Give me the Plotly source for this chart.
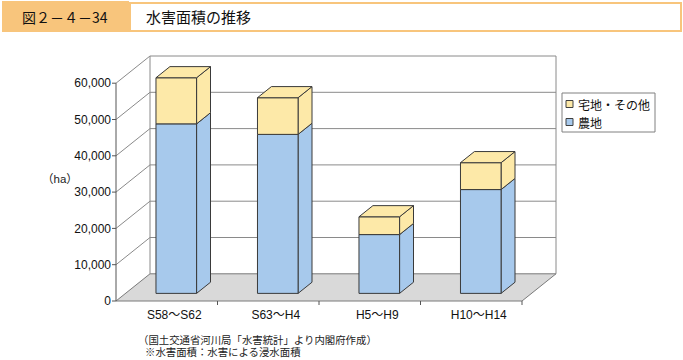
import plotly.graph_objects as go

# ---------------- data ----------------
categories = ["S58～S62", "S63～H4", "H5～H9", "H10～H14"]
farmland = [46700, 43800, 16200, 28600]          # 農地
residential = [12700, 10100, 4900, 7400]         # 宅地・その他
series_names = ["宅地・その他", "農地"]
y_ticks = [0, 10000, 20000, 30000, 40000, 50000, 60000]
y_ticktext = [f"{v:,}" for v in y_ticks]

title_label = "図２－４－34"
title_text = "水害面積の推移"
unit_label = "（ha）"
notes = ["（国土交通省河川局「水害統計」より内閣府作成）", "※水害面積：水害による浸水面積"]

# ---------------- styling / geometry ----------------
BLUE = "#A7C9EC"
YELLOW = "#FDE9A8"
EDGE = "#3A3A3A"
GRID = "#8A8A8A"
FLOOR = "#D9D9D9"
ORANGE = "#F8C57C"
FONT = "Liberation Sans, Arial, Noto Sans CJK JP, sans-serif"
JFONT = "Noto Sans CJK JP, sans-serif"

W, H = 683, 360
PX_X0 = 116        # pixel of front axis (x = -0.5)
PX_Y0 = 301        # pixel of value 0 at the front
SX = 101.5         # px per category unit
SY = 36.3 / 10000  # px per value unit
PL, PR, PT, PB = 112, 557, 54, 306   # plot area in pixels

ymax = max(y_ticks)
DXU = (556 - PX_X0) / SX - len(categories)     # depth offset (x units)
DY = 27.2 / SY                                 # depth offset (value units)
F0, F1 = 0.28, 0.69                            # bar depth span (fraction)
HALF = 0.2                                     # half bar width

x_range = [-0.5 - (PX_X0 - PL) / SX, -0.5 + (PR - PX_X0) / SX]
y_range = [-(PB - PX_Y0) / SY, (PX_Y0 - PT) / SY]


def xp(px):
    return (px - PL) / (PR - PL)


def yp(py):
    return (PB - py) / (PB - PT)


fig = go.Figure()


def line_trace(xs, ys, color, width=1):
    fig.add_trace(go.Scatter(x=xs, y=ys, mode="lines", line=dict(color=color, width=width),
                             hoverinfo="skip", showlegend=False))


def poly_trace(xs, ys, fill, edge=EDGE):
    fig.add_trace(go.Scatter(x=xs + [xs[0]], y=ys + [ys[0]], mode="lines", fill="toself",
                             fillcolor=fill, line=dict(color=edge, width=1),
                             hoverinfo="skip", showlegend=False))


n = len(categories)
xl, xr = -0.5, n - 0.5

# floor
poly_trace([xl, xr, xr + DXU, xl + DXU], [0, 0, DY, DY], FLOOR, edge="#7A7A7A")

# gridlines on back wall and diagonals on the left
gx, gy = [], []
for v in y_ticks[1:]:
    gx += [xl, xl + DXU, xr + DXU, None]
    gy += [v, v + DY, v + DY, None]
line_trace(gx, gy, GRID)
# back wall verticals
line_trace([xl + DXU, xl + DXU, None, xr + DXU, xr + DXU],
           [DY, ymax + DY, None, DY, ymax + DY], GRID)
# front value axis
line_trace([xl, xl], [0, ymax], "#555555")
tx, ty = [], []
tick_len_x = 4 / SX
for v in y_ticks:
    tx += [xl - tick_len_x, xl, None]
    ty += [v, v, None]
tick_len_y = 4 / SY
for k in range(1, n + 1):
    tx += [k - 0.5, k - 0.5, None]
    ty += [0, -tick_len_y, None]
line_trace(tx, ty, "#555555")

# bars (pseudo 3-D stacked)
ddx, ddy = (F1 - F0) * DXU, (F1 - F0) * DY
for i in range(n):
    x0 = i - HALF + F0 * DXU
    x1 = i + HALF + F0 * DXU
    yb = F0 * DY
    base = 0
    for val, col in ((farmland[i], BLUE), (residential[i], YELLOW)):
        top = base + val
        # side face
        poly_trace([x1, x1 + ddx, x1 + ddx, x1],
                   [yb + base, yb + base + ddy, yb + top + ddy, yb + top], col)
        # front face
        poly_trace([x0, x1, x1, x0], [yb + base, yb + base, yb + top, yb + top], col)
        base = top
    # top face
    poly_trace([x0, x1, x1 + ddx, x0 + ddx],
               [yb + base, yb + base, yb + base + ddy, yb + base + ddy], YELLOW)

shapes = []
annotations = []

# title banner
shapes.append(dict(type="rect", xref="paper", yref="paper", x0=xp(2), x1=xp(129), y0=yp(32), y1=yp(1),
                   fillcolor=ORANGE, line=dict(width=0)))
shapes.append(dict(type="rect", xref="paper", yref="paper", x0=xp(130), x1=xp(681), y0=yp(31), y1=yp(3),
                   fillcolor="white", line=dict(color=ORANGE, width=2)))
annotations.append(dict(xref="paper", yref="paper", x=xp(65), y=yp(16.5), text=title_label, showarrow=False,
                        xanchor="center", yanchor="middle", font=dict(family=JFONT, size=14, color="#111")))
annotations.append(dict(xref="paper", yref="paper", x=xp(144), y=yp(16.5), text=title_text, showarrow=False,
                        xanchor="left", yanchor="middle", font=dict(family=JFONT, size=15, color="#111")))

# unit label
annotations.append(dict(xref="paper", yref="paper", x=xp(60), y=yp(179), text=unit_label, showarrow=False,
                        xanchor="center", yanchor="middle", font=dict(family=FONT, size=11.5, color="#222")))

# legend (manual)
shapes.append(dict(type="rect", xref="paper", yref="paper", x0=xp(562), x1=xp(655), y0=yp(132), y1=yp(93),
                   fillcolor="white", line=dict(color="#808080", width=1)))
for k, (name, col) in enumerate(zip(series_names, [YELLOW, BLUE])):
    cy = 104 + 18 * k
    shapes.append(dict(type="rect", xref="paper", yref="paper", x0=xp(566), x1=xp(573),
                       y0=yp(cy + 3.5), y1=yp(cy - 3.5), fillcolor=col, line=dict(color="#404040", width=1)))
    annotations.append(dict(xref="paper", yref="paper", x=xp(576), y=yp(cy), text=name, showarrow=False,
                            xanchor="left", yanchor="middle", font=dict(family=JFONT, size=12, color="#111")))

# notes
annotations.append(dict(xref="paper", yref="paper", x=xp(136), y=yp(339.5), text=notes[0],
                        showarrow=False, xanchor="left", yanchor="middle",
                        font=dict(family=FONT, size=10.4, color="#222")))
annotations.append(dict(xref="paper", yref="paper", x=xp(143), y=yp(351.8), text=notes[1],
                        showarrow=False, xanchor="left", yanchor="middle",
                        font=dict(family=FONT, size=10.4, color="#222")))

fig.update_layout(
    width=W, height=H,
    margin=dict(l=PL, r=W - PR, t=PT, b=H - PB, pad=0),
    paper_bgcolor="white", plot_bgcolor="white",
    showlegend=False,
    shapes=shapes, annotations=annotations,
    xaxis=dict(range=x_range, showgrid=False, zeroline=False, showline=False,
               tickmode="array", tickvals=[i + F0 * DXU - 0.02 for i in range(n)], ticktext=categories,
               ticks="", tickfont=dict(family=FONT, size=12, color="#111"), fixedrange=True),
    yaxis=dict(range=y_range, showgrid=False, zeroline=False, showline=False,
               tickmode="array", tickvals=y_ticks, ticktext=y_ticktext, ticks="",
               tickfont=dict(family=FONT, size=12, color="#111"), fixedrange=True),
)

fig.write_html("out.html", config={"displayModeBar": False},
               post_script="document.body.style.margin='0';document.body.style.padding='0';")
